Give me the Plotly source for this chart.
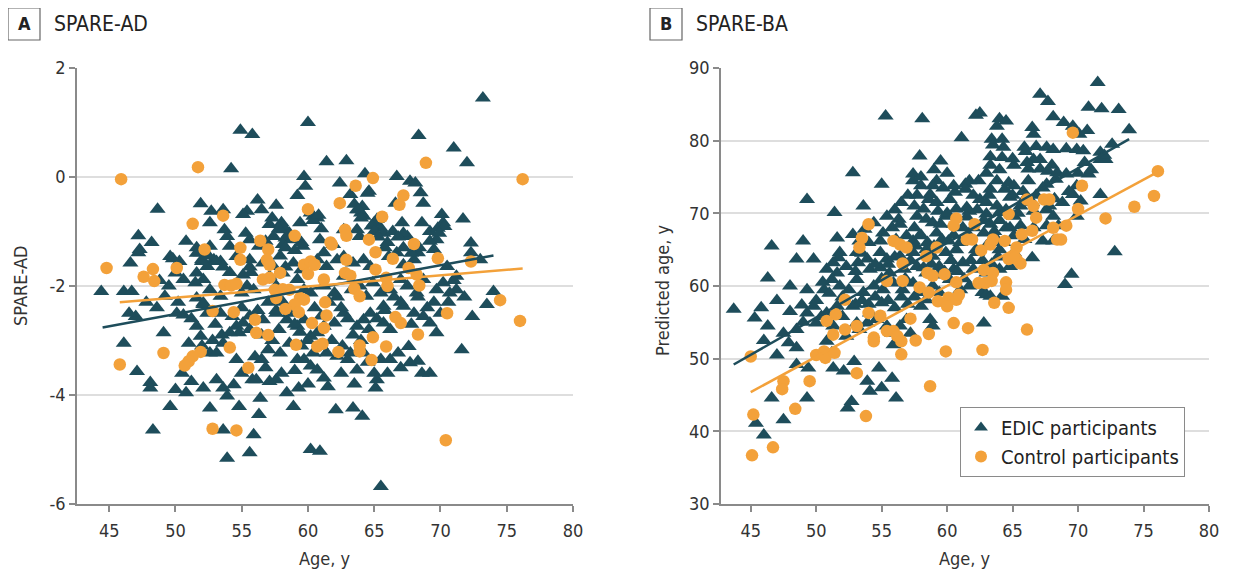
import plotly.graph_objects as go

# ---------------- Panel A: SPARE-AD ----------------
a_edic_age = [73.2,60.0,54.9,55.8,68.35,71.0,72.0,61.4,62.9,54.2,64.3,59.7,66.7,67.7,68.1,59.8,62.4,64.6,63.2,68.5,59.2,
              48.65,51.9,56.2,57.6,52.7,53.6,55.4,55.1,64.1,64.0,68.7,66.6,70.1,71.7,70.2,60.4,60.7,65.0,58.0,52.6,53.7,
              47.2,57.1,58.1,58.6,57.4,58.3,58.8,62.7,63.7,63.9,65.5,65.7,67.1,66.4,67.5,68.6,69.2,69.7,69.8,70.3,72.3,
              50.8,51.9,51.6,52.6,53.9,54.1,55.3,55.6,56.3,56.8,58.1,59.6,60.9,61.9,61.2,47.2,49.6,50.3,52.0,52.9,53.4,52.4,
              46.6,54.6,55.6,56.6,57.4,58.9,60.7,61.4,62.2,62.7,63.4,64.2,64.7,66.1,66.7,67.2,68.0,68.3,69.5,70.5,71.2,72.3,73.0,
              44.4,46.1,46.7,49.2,50.0,50.6,51.6,52.1,51.5,52.6,53.4,51.6,52.1,55.0,55.4,55.9,57.1,57.6,58.1,59.2,59.7,60.2,
              61.2,62.0,62.7,63.3,63.9,64.4,64.9,65.5,66.2,67.0,67.5,68.2,68.7,69.7,70.2,70.7,71.2,74.0,73.5,
              47.0,48.6,50.1,50.6,52.1,52.4,51.6,51.9,49.1,53.4,54.3,54.6,54.8,55.1,55.6,56.6,57.6,58.4,59.2,59.7,60.2,60.7,
              61.2,62.0,62.7,63.7,64.2,64.7,65.7,65.7,66.2,67.2,68.0,69.2,69.7,68.7,72.4,46.1,53.6,54.1,
              71.6,47.1,48.1,48.1,49.6,50.0,50.5,51.0,50.8,51.2,52.1,52.6,52.6,53.1,53.1,53.6,53.9,54.4,54.6,55.0,54.8,55.8,
              56.1,56.5,56.4,56.3,57.1,57.6,57.0,57.9,58.4,58.9,59.2,59.3,59.7,60.2,60.4,60.7,61.2,61.4,62.2,63.2,63.7,64.2,
              65.0,65.2,65.1,65.5,66.2,66.8,67.6,67.7,68.6,69.2,68.3,62.1,63.4,64.1,
              48.3,53.6,55.9,53.9,55.6,60.2,60.9,65.5,
              58.1,59.4,60.2,63.7,64.2,65.2,67.2,69.2,69.9,47.3,
              56.5,57.3,57.8,58.3,57.9,59.0,59.5,60.4,60.8,61.0,59.5,58.3,63.5,63.8,64.0,64.5,64.8,65.0,65.3,66.0,65.8,66.8,67.2,67.8,68.4,
              51.6,52.0,52.5,53.1,53.6,54.1,55.1,55.6,55.7,
              57.0,57.6,58.1,58.6,59.0,59.4,60.5,61.0,61.6,62.2,62.5,63.0,63.4,64.0,64.6,65.2,65.8,66.5,67.0,67.8,68.3,69.0,69.5,70.0,70.6,71.0,71.8,
              55.0,55.6,56.2,56.5,57.3,57.8,58.6,59.5,60.0,61.0,61.8,62.6,63.0,
              53.0,53.5,52.8,52.0,51.2,50.2,49.5,48.8,49.8,48.2,47.8,46.5,
              56.0,56.8,58.0,59.0,60.0,61.5,62.5,63.5,64.5,66.0,67.0]
a_edic_val = [1.45,1.0,0.86,0.78,0.76,0.53,0.26,0.28,0.30,0.15,0.06,0.01,0.01,-0.08,-0.11,-0.17,-0.11,-0.26,-0.32,-0.29,-0.34,
              -0.59,-0.49,-0.42,-0.52,-0.63,-0.6,-0.63,-0.69,-0.54,-0.66,-0.48,-0.48,-0.69,-0.77,-0.84,-0.72,-0.75,-0.84,-0.84,-0.84,-0.97,
              -1.08,-0.87,-0.97,-1.03,-1.09,-1.12,-1.15,-0.97,-0.97,-1.09,-0.94,-1.03,-0.84,-1.0,-1.09,-0.84,-1.0,-1.15,-0.94,-0.91,-1.21,
              -1.18,-1.39,-1.3,-1.27,-1.09,-1.27,-1.03,-1.15,-1.27,-1.18,-1.24,-1.27,-1.15,-1.24,-1.39,-1.39,-1.46,-1.55,-1.52,-1.52,-1.55,-1.64,
              -1.58,-1.46,-1.52,-1.58,-1.64,-1.58,-1.52,-1.64,-1.52,-1.46,-1.58,-1.52,-1.64,-1.46,-1.39,-1.61,-1.52,-1.39,-1.33,-1.64,-1.82,-1.39,-1.52,
              -2.1,-2.1,-2.1,-2.19,-1.76,-1.88,-1.76,-1.88,-1.94,-2.07,-2.19,-2.22,-2.31,-2.13,-2.0,-2.07,-1.82,-2.0,-1.76,-1.88,-2.07,-2.13,
              -2.0,-2.13,-1.82,-2.07,-2.0,-2.19,-1.94,-2.13,-2.07,-1.88,-2.0,-2.13,-1.88,-2.07,-1.94,-2.13,-2.07,-2.1,-2.34,
              -2.56,-2.4,-2.5,-2.53,-2.34,-2.5,-2.74,-2.92,-2.86,-2.5,-2.56,-2.74,-2.86,-2.68,-2.8,-2.62,-2.5,-2.62,-2.74,-2.62,-2.92,-2.86,
              -2.74,-2.68,-2.5,-2.74,-2.62,-2.5,-2.37,-2.68,-2.8,-2.37,-2.5,-2.68,-2.86,-2.56,-2.56,-3.05,-3.05,-2.86,
              -3.17,-3.57,-3.77,-3.87,-4.21,-3.9,-3.6,-3.05,-3.96,-3.75,-3.87,-4.24,-3.23,-3.23,-3.72,-3.87,-4.02,-3.81,-3.35,-3.6,-4.21,-3.72,
              -3.72,-3.35,-4.06,-4.36,-3.75,-3.72,-3.17,-3.23,-3.96,-4.21,-3.35,-3.87,-3.35,-3.47,-3.23,-3.54,-3.69,-3.23,-3.29,-3.23,-3.54,-3.23,
              -3.6,-3.72,-3.87,-3.35,-3.35,-3.23,-3.11,-3.41,-3.6,-3.6,-3.38,-4.27,-4.24,-4.39,
              -4.64,-4.64,-4.73,-5.16,-5.06,-5.0,-5.03,-5.68,
              -0.9,-0.84,-0.66,-0.6,-0.72,-0.78,-1.03,-1.18,-1.03,-1.33,
              -0.6,-0.75,-0.95,-1.3,-1.45,-1.35,-1.2,-0.8,-0.7,-0.95,-1.7,-1.65,-0.5,-0.6,-0.75,-0.3,-0.9,-1.0,-1.1,-1.2,-1.3,-1.1,-1.3,-1.4,-1.3,
              -1.4,-1.55,-1.45,-1.55,-1.65,-1.75,-1.8,-1.65,-1.75,
              -2.3,-2.45,-2.3,-2.5,-2.7,-2.85,-2.4,-2.55,-2.3,-2.2,-2.4,-2.6,-2.9,-3.0,-2.8,-2.6,-2.45,-2.2,-2.3,-2.7,-2.2,-2.4,-2.3,-2.5,-2.3,-1.9,-2.2,
              -2.4,-2.55,-2.45,-2.9,-3.0,-2.8,-3.05,-3.1,-3.0,-3.1,-3.0,-3.1,-3.35,
              -2.7,-2.9,-3.0,-3.1,-2.6,-2.3,-2.0,-1.9,-1.5,-1.2,-2.3,-2.5,
              -3.3,-3.5,-3.6,-3.55,-3.8,-3.85,-3.6,-3.8,-3.4,-3.6,-3.5]

a_ctrl_age = [45.9,51.7,68.9,76.2,64.9,63.6,67.2,66.9,62.4,60.0,65.6,53.6,51.3,59.0,62.8,62.9,64.6,61.7,61.8,56.4,54.9,52.2,57.0,
              65.1,68.0,69.8,72.3,66.4,62.9,54.9,56.9,57.1,59.7,60.2,60.5,60.0,65.1,67.6,44.8,48.3,50.1,47.6,48.4,57.9,62.8,63.2,
              65.9,68.2,56.6,57.1,61.2,53.7,54.2,54.6,66.0,68.4,57.5,58.1,58.6,63.5,63.9,57.6,59.4,59.7,59.0,58.3,59.3,61.3,52.8,
              54.4,74.5,70.5,61.4,66.6,67.0,56.0,60.3,76.0,56.1,57.0,61.2,68.3,64.9,59.1,60.7,61.1,63.9,65.9,54.1,49.1,51.9,51.3,
              51.0,50.7,62.3,63.9,64.8,45.8,55.5,52.8,54.6,70.4]
a_ctrl_val = [-0.04,0.18,0.26,-0.04,-0.02,-0.16,-0.34,-0.51,-0.48,-0.59,-0.73,-0.71,-0.86,-1.08,-0.97,-1.08,-1.15,-1.2,-1.24,-1.17,-1.3,-1.33,-1.33,
              -1.38,-1.23,-1.49,-1.55,-1.5,-1.52,-1.52,-1.52,-1.61,-1.61,-1.55,-1.61,-1.78,-1.7,-1.67,-1.67,-1.69,-1.67,-1.83,-1.91,-1.76,-1.76,-1.81,
              -1.85,-1.79,-1.88,-1.85,-1.88,-1.98,-1.99,-1.96,-2.0,-1.99,-2.07,-2.06,-2.07,-2.05,-2.19,-2.22,-2.22,-2.25,-2.34,-2.42,-2.48,-2.3,-2.46,
              -2.48,-2.26,-2.5,-2.54,-2.57,-2.68,-2.62,-2.68,-2.64,-2.86,-2.9,-2.77,-2.89,-2.94,-3.08,-3.11,-3.06,-3.09,-3.11,-3.13,-3.23,-3.21,-3.29,
              -3.38,-3.46,-3.21,-3.2,-3.36,-3.44,-3.5,-4.62,-4.65,-4.83]

a_edic_fit_age = [44.5, 74.0]
a_edic_fit_val = [-2.76, -1.44]
a_ctrl_fit_age = [45.8, 76.2]
a_ctrl_fit_val = [-2.30, -1.68]

# ---------------- Panel B: SPARE-BA ----------------
b_edic_age = [71.5,67.1,67.7,55.3,58.1,62.2,62.5,70.8,71.8,73.1,68.1,64.0,64.5,63.8,68.9,66.5,69.6,73.9,66.6,70.1,70.7,61.1,63.4,64.2,
              63.5,64.3,65.9,66.8,67.6,68.1,69.1,69.9,70.4,57.9,63.3,64.2,66.6,71.7,59.5,63.3,65.1,66.1,67.1,68.0,66.2,67.1,67.7,68.4,
              69.1,70.8,71.7,72.1,52.8,57.4,57.4,59.2,58.9,61.4,61.7,62.4,63.8,64.7,63.3,64.4,65.1,67.6,68.3,69.9,55.0,58.0,58.7,59.7,
              60.6,61.4,69.6,71.7,57.7,49.3,58.6,59.2,60.2,62.5,63.0,63.8,64.8,65.6,65.9,66.5,67.8,70.2,53.6,57.5,58.2,59.3,60.7,61.7,
              63.0,64.0,65.1,66.6,68.1,51.4,55.4,57.7,58.4,59.9,69.9,56.3,56.4,54.4,53.7,55.8,58.9,60.5,61.2,63.3,64.5,65.6,66.6,67.6,
              68.5,51.6,52.8,53.3,55.1,54.9,56.1,56.9,57.4,57.9,59.2,59.6,60.1,61.7,62.8,63.8,65.1,65.9,67.3,68.1,46.6,49.0,51.8,51.7,
              53.1,53.9,54.9,55.4,56.4,57.4,58.4,58.9,59.9,60.7,62.3,63.0,64.0,65.1,66.5,72.8,48.5,49.8,50.8,51.3,51.6,52.3,53.2,54.1,
              54.9,55.6,56.7,57.7,58.4,59.4,60.5,61.2,62.0,63.0,64.0,64.8,46.3,48.0,49.3,50.6,51.2,51.8,53.1,53.6,54.4,55.1,55.9,56.6,
              57.4,57.9,58.9,59.4,60.2,61.0,61.7,62.7,63.0,64.2,69.0,69.5,43.7,45.3,45.8,46.3,47.5,47.9,48.5,48.9,49.3,49.8,50.0,50.4,
              50.8,51.6,51.3,52.0,52.3,52.8,53.1,53.3,53.9,54.1,54.6,55.0,55.4,55.8,55.9,56.4,56.9,57.2,58.0,58.4,58.7,58.9,60.5,62.8,
              63.3,50.8,51.2,48.5,49.4,51.3,52.1,52.9,54.8,53.9,54.1,55.0,55.8,56.1,52.4,52.7,46.6,49.3,47.5,45.4,46.0,
              56.0,56.5,57.0,57.5,58.0,58.5,59.0,59.5,60.0,60.5,61.0,61.5,62.0,62.3,62.8,63.2,63.6,64.0,64.5,65.0,65.4,65.8,66.2,66.8,
              67.3,67.6,68.2,68.8,69.3,70.0,70.5,71.0,72.0,72.6,
              53.0,53.5,54.0,54.5,55.0,55.5,56.0,56.8,57.2,57.6,58.2,58.8,59.3,59.8,60.3,60.8,61.3,61.8,62.2,62.7,63.4,63.9,64.3,64.8,
              50.0,50.5,51.0,51.5,52.0,52.5,53.0,53.5,54.0,54.5,55.5,56.0,56.5,57.0,57.5,47.0,48.0,49.0,46.0,47.0,48.5,
              61.5,62.0,60.5,58.0,59.0,60.0,64.0,65.0,66.0,63.0]
b_edic_val = [88.0,86.4,85.4,83.4,83.0,83.5,83.8,84.6,84.4,84.3,83.3,83.0,82.7,82.0,82.5,81.8,82.0,81.5,80.9,80.9,81.4,80.4,80.2,80.2,
              79.4,79.1,79.1,79.2,79.1,78.8,78.9,78.8,78.6,77.9,77.8,77.7,77.4,78.4,77.2,76.6,76.6,77.0,77.4,76.6,76.1,76.1,75.8,75.6,
              75.4,75.4,77.4,77.4,75.6,75.4,74.5,74.5,73.8,74.0,74.5,74.5,74.5,74.2,73.3,73.3,73.8,74.0,74.7,73.8,74.0,73.8,72.6,73.5,
              72.9,73.3,72.6,72.6,72.5,71.9,71.9,71.5,71.9,71.9,71.5,71.0,72.2,71.0,71.9,71.5,71.0,71.7,71.0,71.0,70.6,70.3,70.6,70.3,
              69.9,70.1,69.6,70.3,69.6,70.1,69.6,69.6,69.2,69.6,69.6,69.2,68.5,68.7,67.8,68.0,68.7,68.5,68.0,68.5,68.0,68.3,68.0,68.3,
              68.3,66.6,67.1,66.2,67.3,66.2,66.4,66.9,66.2,66.9,67.3,66.4,66.2,66.9,67.3,66.4,66.9,66.4,66.2,66.2,65.5,66.2,64.6,63.9,
              64.6,63.7,64.6,63.7,64.1,64.6,65.0,64.1,64.6,65.0,64.6,65.5,65.0,64.6,63.9,64.7,63.7,63.7,62.3,63.2,61.8,62.7,63.2,62.3,
              62.5,61.8,62.3,62.7,61.8,62.7,62.3,63.2,62.3,61.8,62.3,62.7,61.1,60.0,59.5,59.5,60.9,60.0,60.9,59.1,60.0,59.5,60.4,59.5,
              60.4,59.1,60.0,59.1,60.9,59.5,60.0,59.1,58.8,58.6,60.2,61.6,56.8,55.6,57.0,54.5,53.5,52.2,54.0,57.4,56.3,57.2,54.9,55.8,
              56.3,57.2,54.5,55.8,53.1,57.2,54.9,54.0,54.9,56.3,55.4,57.7,54.5,53.5,51.9,54.5,55.4,53.5,57.2,58.1,55.4,54.5,58.1,54.9,
              58.6,52.4,50.8,49.2,48.7,48.7,48.3,49.6,48.7,46.9,45.5,46.0,47.3,44.6,43.2,44.1,44.6,44.6,41.6,41.1,39.5,
              70.5,71.5,72.5,68.0,67.0,66.0,65.5,68.5,70.0,67.0,66.0,69.5,68.0,70.5,69.0,72.5,67.5,69.0,70.5,72.5,70.0,73.0,74.5,72.5,
              73.5,70.5,72.0,71.5,73.0,75.5,77.0,76.0,78.0,79.5,
              62.0,64.5,66.0,63.0,61.0,63.0,64.0,61.0,63.5,65.5,62.5,63.0,61.5,62.0,63.5,62.0,61.0,63.5,65.0,63.5,63.0,64.0,66.0,68.0,
              58.0,60.5,59.0,56.5,58.5,59.5,57.5,58.0,57.5,58.5,58.0,57.0,58.5,57.5,58.5,58.0,56.5,55.0,52.5,50.5,51.5,
              70.8,72.5,73.8,75.0,76.0,75.5,76.0,77.5,78.5,75.5]

b_ctrl_age = [69.6,76.1,75.8,74.3,72.1,70.3,70.0,66.1,66.6,66.8,67.4,67.8,64.7,60.7,60.5,62.1,54.0,53.5,53.3,55.9,56.4,56.9,61.5,61.9,
              63.5,64.4,63.3,59.2,62.6,66.5,65.7,68.1,69.1,68.4,68.7,65.3,64.7,65.3,65.6,65.1,56.6,58.4,55.4,56.6,58.5,58.9,59.8,60.7,
              62.8,63.5,62.4,62.9,63.4,64.5,64.5,57.9,58.6,59.3,60.1,60.0,60.7,60.9,63.6,64.7,52.2,51.5,50.8,51.3,52.2,53.1,54.0,54.9,
              54.4,54.4,55.4,55.9,56.2,56.5,57.2,57.6,56.5,60.5,58.6,59.9,61.6,62.7,66.1,50.0,50.6,50.7,51.4,45.0,53.1,47.5,47.4,49.5,
              48.4,53.8,58.7,45.2,46.7,45.1]
b_ctrl_val = [81.1,75.8,72.4,70.9,69.3,73.8,70.6,71.9,71.0,69.4,71.9,71.9,69.9,69.3,68.3,68.5,68.5,66.6,65.3,66.2,65.7,65.3,66.4,66.4,
              66.4,66.2,65.7,65.3,64.9,67.6,67.1,68.0,68.3,66.4,66.4,65.3,63.7,63.7,63.1,64.2,63.1,64.1,60.7,60.7,61.8,61.4,61.6,60.5,
              62.2,61.8,60.4,60.4,60.7,60.5,59.5,59.8,59.1,57.9,58.4,57.2,58.1,58.8,57.7,57.0,58.1,56.1,55.2,53.3,54.0,54.5,56.3,55.9,
              52.9,52.4,53.8,53.8,53.1,52.4,55.5,52.5,50.6,54.9,53.4,51.0,54.2,51.2,54.0,50.5,51.0,50.1,50.8,50.3,48.0,46.9,45.8,46.9,
              43.1,42.1,46.2,42.3,37.8,36.7]

b_edic_fit_age = [43.7, 73.9]
b_edic_fit_val = [49.2, 80.2]
b_ctrl_fit_age = [45.0, 76.1]
b_ctrl_fit_val = [45.4, 75.7]

x_ticks = [45, 50, 55, 60, 65, 70, 75, 80]
a_y_ticks = [-6, -4, -2, 0, 2]
a_y_ticktext = ["-6", "-4", "-2", "0", "2"]
b_y_ticks = [30, 40, 50, 60, 70, 80, 90]

TEAL = "#1e4d5b"
ORANGE = "#f3a13a"
FONT = "Liberation Sans Narrow, DejaVu Sans Condensed, Arial Narrow, sans-serif"

W, H = 1237, 573
OFF = 8  # the page body adds an 8px margin; place elements relative to the window


def px(p):
    return (p - OFF) / W


def py(p):
    return (H - (p - OFF)) / H


fig = go.Figure()


def add_panel(xa, ya, e_age, e_val, c_age, c_val, efa, efv, cfa, cfv, legend):
    fig.add_trace(go.Scatter(x=e_age, y=e_val, mode="markers", xaxis=xa, yaxis=ya,
                             name="EDIC participants", showlegend=legend,
                             marker=dict(symbol="triangle-up", size=14, color=TEAL)))
    fig.add_trace(go.Scatter(x=c_age, y=c_val, mode="markers", xaxis=xa, yaxis=ya,
                             name="Control participants", showlegend=legend,
                             marker=dict(symbol="circle", size=12.5, color=ORANGE)))
    fig.add_trace(go.Scatter(x=efa, y=efv, mode="lines", xaxis=xa, yaxis=ya, showlegend=False,
                             line=dict(color=TEAL, width=2.5)))
    fig.add_trace(go.Scatter(x=cfa, y=cfv, mode="lines", xaxis=xa, yaxis=ya, showlegend=False,
                             line=dict(color=ORANGE, width=2.5)))


add_panel("x", "y", a_edic_age, a_edic_val, a_ctrl_age, a_ctrl_val,
          a_edic_fit_age, a_edic_fit_val, a_ctrl_fit_age, a_ctrl_fit_val, False)
add_panel("x2", "y2", b_edic_age, b_edic_val, b_ctrl_age, b_ctrl_val,
          b_edic_fit_age, b_edic_fit_val, b_ctrl_fit_age, b_ctrl_fit_val, True)

ydom = [py(504), py(68)]
axis_common = dict(showline=True, linecolor="#8a8a8a", linewidth=1.5, ticks="outside",
                   ticklen=6, tickcolor="#8a8a8a", tickwidth=1.5, zeroline=False, automargin=False,
                   tickfont=dict(size=18, color="#333333", family=FONT))
xaxis_extra = dict(ticklabelstandoff=4)

fig.update_layout(
    width=W, height=H, margin=dict(l=0, r=0, t=0, b=0),
    paper_bgcolor="white", plot_bgcolor="white",
    font=dict(family=FONT, color="#333333"),
    xaxis=dict(domain=[px(77), px(573)], range=[42.57, 80], tickvals=x_ticks, showgrid=False,
               anchor="y", **axis_common, **xaxis_extra),
    yaxis=dict(domain=ydom, range=[-6, 2], tickvals=a_y_ticks, ticktext=a_y_ticktext,
               showgrid=True, gridcolor="#dedede", gridwidth=1.5, anchor="x", **axis_common),
    xaxis2=dict(domain=[px(721), px(1209)], range=[42.73, 80], tickvals=x_ticks, showgrid=False,
                anchor="y2", **axis_common, **xaxis_extra),
    yaxis2=dict(domain=ydom, range=[30, 90], tickvals=b_y_ticks, showgrid=True, gridcolor="#dedede",
                gridwidth=1.5, anchor="x2", **axis_common),
    legend=dict(x=px(960), y=py(407), xanchor="left", yanchor="top",
                bgcolor="white", bordercolor="#8a8a8a", borderwidth=1,
                font=dict(size=20, color="#222222", family=FONT), itemsizing="constant",
                tracegroupgap=0),
)

TITLE_FONT = dict(size=18, color="#333333", family=FONT)
# axis titles
fig.add_annotation(x=px(325), y=py(558), xref="paper", yref="paper", text="Age, y",
                   showarrow=False, font=TITLE_FONT, xanchor="center", yanchor="middle")
fig.add_annotation(x=px(965), y=py(558), xref="paper", yref="paper", text="Age, y",
                   showarrow=False, font=TITLE_FONT, xanchor="center", yanchor="middle")
fig.add_annotation(x=px(20), y=py(286), xref="paper", yref="paper", text="SPARE-AD", textangle=-90,
                   showarrow=False, font=TITLE_FONT, xanchor="center", yanchor="middle")
fig.add_annotation(x=px(662), y=py(290), xref="paper", yref="paper", text="Predicted age, y",
                   textangle=-90, showarrow=False, font=TITLE_FONT, xanchor="center", yanchor="middle")

# panel labels
for bx, letter, title in [(8, "A", "SPARE-AD"), (650, "B", "SPARE-BA")]:
    fig.add_shape(type="rect", xref="paper", yref="paper",
                  x0=px(bx), x1=px(bx + 32), y0=py(40), y1=py(8),
                  line=dict(color="#666666", width=1.2), fillcolor="white")
    fig.add_annotation(x=px(bx + 16), y=py(24), xref="paper", yref="paper",
                       text="<b>" + letter + "</b>", showarrow=False,
                       font=dict(size=18, color="#222222", family=FONT),
                       xanchor="center", yanchor="middle")
    fig.add_annotation(x=px(bx + 44), y=py(24), xref="paper", yref="paper",
                       text=title, showarrow=False,
                       font=dict(size=21, color="#222222", family=FONT),
                       xanchor="left", yanchor="middle")

fig.write_html("out.html")
